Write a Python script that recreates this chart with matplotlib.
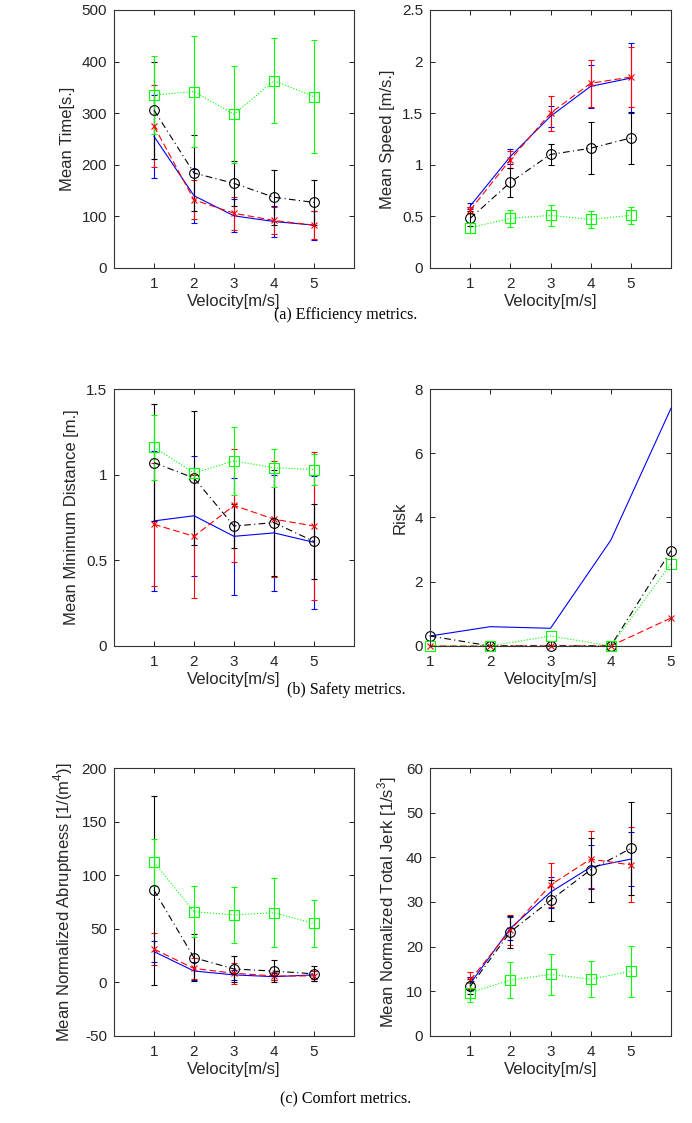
import numpy as np
import matplotlib
matplotlib.use("Agg")
import matplotlib.pyplot as plt

plt.rcParams['font.family'] = ['Liberation Sans', 'DejaVu Sans']
plt.rcParams['mathtext.fontset'] = 'custom'
plt.rcParams['mathtext.rm'] = 'Liberation Sans'

vel = [1, 2, 3, 4, 5]

# (a) efficiency
time_blue = [255, 140, 101, 90, 83]
time_blue_err = [81, 52, 32, 30, 28]
time_red = [275, 132, 106, 92, 83]
time_red_err = [80, 38, 32, 26, 27]
time_black = [306, 184, 164, 137, 127]
time_black_err = [94, 73, 44, 53, 44]
time_green = [335, 342, 298, 363, 332]
time_green_err = [75, 108, 94, 83, 110]

speed_blue = [0.60, 1.08, 1.47, 1.76, 1.84]
speed_blue_err = [0.03, 0.07, 0.10, 0.21, 0.34]
speed_red = [0.56, 1.05, 1.50, 1.79, 1.85]
speed_red_err = [0.03, 0.08, 0.17, 0.23, 0.29]
speed_black = [0.48, 0.83, 1.10, 1.16, 1.26]
speed_black_err = [0.07, 0.14, 0.10, 0.25, 0.25]
speed_green = [0.39, 0.48, 0.51, 0.47, 0.51]
speed_green_err = [0.05, 0.08, 0.10, 0.08, 0.08]

# (b) safety
dist_blue = [0.73, 0.76, 0.64, 0.66, 0.605]
dist_blue_err = [0.41, 0.35, 0.34, 0.34, 0.39]
dist_red = [0.71, 0.64, 0.82, 0.74, 0.70]
dist_red_err = [0.36, 0.36, 0.33, 0.34, 0.43]
dist_black = [1.07, 0.98, 0.70, 0.72, 0.61]
dist_black_err = [0.34, 0.39, 0.13, 0.31, 0.22]
dist_green = [1.16, 1.01, 1.08, 1.04, 1.03]
dist_green_err = [0.19, 0.03, 0.20, 0.11, 0.09]

risk_blue = [0.31, 0.60, 0.55, 3.29, 7.40]
risk_red = [0.0, 0.0, 0.0, 0.0, 0.87]
risk_black = [0.31, 0.0, 0.0, 0.0, 2.97]
risk_green = [0.0, 0.0, 0.31, 0.0, 2.56]

# (c) comfort
abr_blue = [28.7, 10.6, 7.0, 5.3, 7.0]
abr_blue_err = [10, 8, 5, 3, 4]
abr_red = [31, 13, 8.5, 6, 6]
abr_red_err = [15, 10, 10, 4, 5]
abr_black = [86, 23, 12.5, 10.5, 8]
abr_black_err = [88, 22, 12, 10, 7]
abr_green = [112, 66, 63, 65, 55]
abr_green_err = [22, 24, 26, 32, 22]

jerk_blue = [11.7, 24.1, 32.2, 37.8, 39.6]
jerk_blue_err = [1.5, 2.5, 3.5, 5.0, 6.0]
jerk_red = [12.5, 23.7, 33.8, 39.6, 38.3]
jerk_red_err = [1.9, 3.4, 5.0, 6.4, 8.4]
jerk_black = [11.1, 23.3, 30.4, 37.2, 42.0]
jerk_black_err = [1.7, 3.5, 4.6, 7.1, 10.4]
jerk_green = [9.7, 12.5, 13.8, 12.7, 14.5]
jerk_green_err = [2.2, 4.0, 4.6, 4.0, 5.7]

GREEN = '#00ff00'
TXT = '#262626'
LW = 0.8


def style(ax, xlim, ylim, yticks, ylabel):
    ax.set_xlim(xlim)
    ax.set_ylim(ylim)
    ax.set_xticks(vel)
    ax.set_yticks(yticks)
    ax.set_yticklabels(['%g' % t for t in yticks])
    ax.tick_params(direction='in', top=True, right=True, length=3.5,
                   width=0.6, labelsize=11, labelcolor=TXT)
    ax.tick_params(axis='x', pad=6.5)
    ax.tick_params(axis='y', pad=5)
    for s in ax.spines.values():
        s.set_linewidth(0.8)
        s.set_color('#333333')
    ax.set_xlabel('Velocity[m/s]', fontsize=12, labelpad=2.5, color=TXT)
    ax.set_ylabel(ylabel, fontsize=12, labelpad=5, color=TXT)


def four(ax, b, be, r, re, k, ke, g, ge):
    ek = dict(capsize=2, elinewidth=LW, capthick=LW, lw=LW)
    ax.errorbar(vel, b, yerr=be, color='b', ls='-', **ek)
    ax.errorbar(vel, r, yerr=re, color='r', ls='--', marker='x', ms=5,
                mew=LW, dashes=(6, 3), **ek)
    ax.errorbar(vel, k, yerr=ke, color='k', ls='-.', marker='o', ms=7,
                mfc='none', mew=LW, dashes=(6, 3, 1, 3), **ek)
    ax.errorbar(vel, g, yerr=ge, color=GREEN, ls=':', marker='s', ms=7.5,
                mfc='none', mew=LW, **ek)


fig = plt.figure(figsize=(6.92, 11.23), dpi=100)
xl, xw = 114 / 692, 240 / 692
xr, xrw = 430 / 692, 241 / 692
rows = [(0.7614, 0.2297), (0.4248, 0.2288), (0.0775, 0.2386)]

ax = fig.add_axes([xl, rows[0][0], xw, rows[0][1]])
four(ax, time_blue, time_blue_err, time_red, time_red_err,
     time_black, time_black_err, time_green, time_green_err)
style(ax, (0, 6), (0, 500), [0, 100, 200, 300, 400, 500], 'Mean Time[s.]')

ax = fig.add_axes([xr, rows[0][0], xrw, rows[0][1]])
four(ax, speed_blue, speed_blue_err, speed_red, speed_red_err,
     speed_black, speed_black_err, speed_green, speed_green_err)
style(ax, (0, 6), (0, 2.5), [0, 0.5, 1, 1.5, 2, 2.5], 'Mean Speed [m/s.]')

ax = fig.add_axes([xl, rows[1][0], xw, rows[1][1]])
four(ax, dist_blue, dist_blue_err, dist_red, dist_red_err,
     dist_black, dist_black_err, dist_green, dist_green_err)
style(ax, (0, 6), (0, 1.5), [0, 0.5, 1, 1.5], 'Mean Minimum Distance [m.]')

ax = fig.add_axes([xr, rows[1][0], xrw, rows[1][1]])
ax.plot(vel, risk_blue, color='b', ls='-', lw=LW, clip_on=False)
ax.plot(vel, risk_red, color='r', ls='--', marker='x', ms=5, mew=LW,
        lw=LW, dashes=(6, 3), clip_on=False)
ax.plot(vel, risk_black, color='k', ls='-.', marker='o', ms=7, mfc='none',
        mew=LW, lw=LW, dashes=(6, 3, 1, 3), clip_on=False)
ax.plot(vel, risk_green, color=GREEN, ls=':', marker='s', ms=7.5,
        mfc='none', mew=LW, lw=LW, clip_on=False)
style(ax, (1, 5), (0, 8), [0, 2, 4, 6, 8], 'Risk')

ax = fig.add_axes([xl, rows[2][0], xw, rows[2][1]])
four(ax, abr_blue, abr_blue_err, abr_red, abr_red_err,
     abr_black, abr_black_err, abr_green, abr_green_err)
style(ax, (0, 6), (-50, 200), [-50, 0, 50, 100, 150, 200],
      'Mean Normalized Abruptness [1/(m$^4$)]')

ax = fig.add_axes([xr, rows[2][0], xrw, rows[2][1]])
four(ax, jerk_blue, jerk_blue_err, jerk_red, jerk_red_err,
     jerk_black, jerk_black_err, jerk_green, jerk_green_err)
style(ax, (0, 6), (0, 60), [0, 10, 20, 30, 40, 50, 60],
      'Mean Normalized Total Jerk [1/s$^3$]')

cap = dict(ha='center', va='center', fontsize=11.5,
           family=['Liberation Serif', 'DejaVu Serif'])
fig.text(0.5, 1 - 315 / 1123, '(a) Efficiency metrics.', **cap)
fig.text(0.5, 1 - 690 / 1123, '(b) Safety metrics.', **cap)
fig.text(0.5, 1 - 1099 / 1123, '(c) Comfort metrics.', **cap)

fig.savefig('out.png', dpi=100)
